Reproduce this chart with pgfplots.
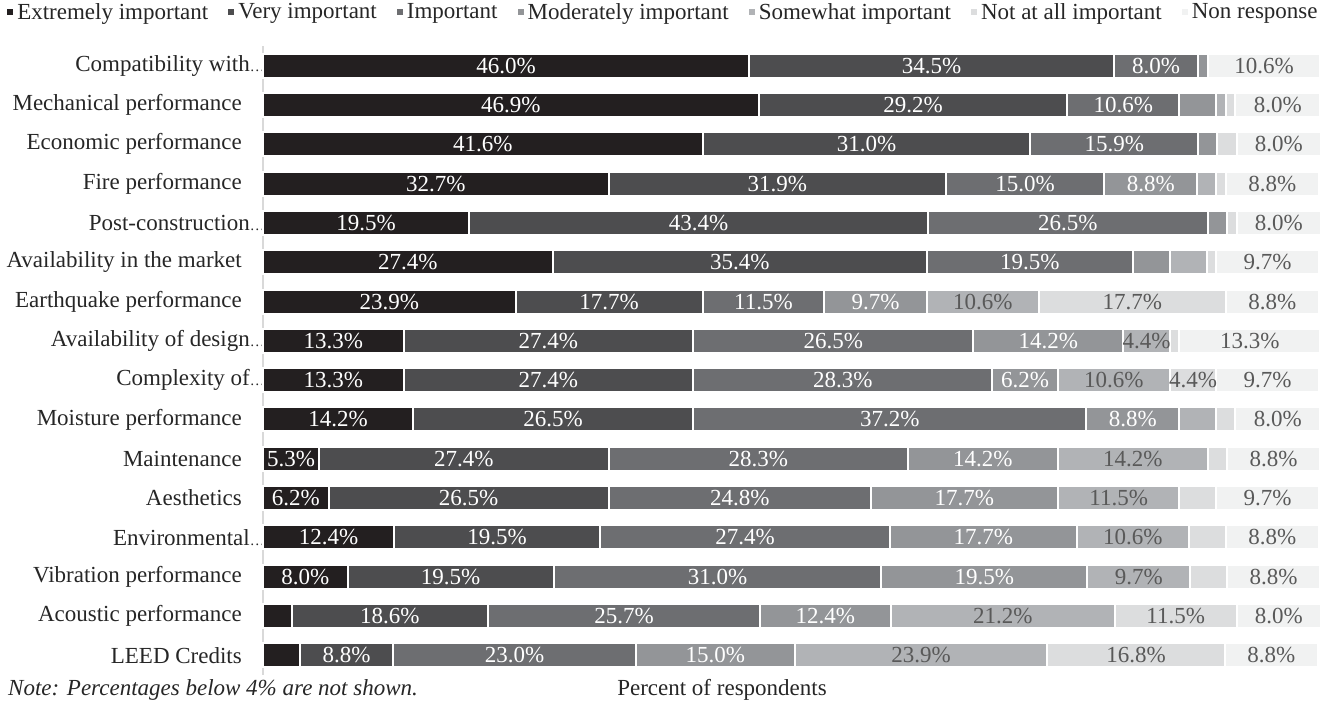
\documentclass[border=0pt]{standalone}
\usepackage{pgfplots}
\usepackage{pgfplotstable}
\pgfplotsset{compat=1.18}
\usepackage{fontspec}
\setmainfont{Liberation Serif}
\definecolor{cExt}{HTML}{231F20}
\definecolor{cVery}{HTML}{4D4D4F}
\definecolor{cImp}{HTML}{6D6E71}
\definecolor{cMod}{HTML}{939598}
\definecolor{cSome}{HTML}{B1B3B6}
\definecolor{cNot}{HTML}{DCDDDE}
\definecolor{cNon}{HTML}{F1F2F2}
\definecolor{txt}{HTML}{262626}
\definecolor{lbl}{HTML}{595959}

\pgfplotstableread{
y  ext  very imp  mod  some notat nonr
16 46.0 34.5 8.0  0.9  0    0    10.6
15 46.9 29.2 10.6 3.5  0.9  0.9  8.0
14 41.6 31.0 15.9 1.8  0    1.8  8.0
13 32.7 31.9 15.0 8.8  1.8  0.9  8.8
12 19.5 43.4 26.5 1.8  0    0.9  8.0
11 27.4 35.4 19.5 3.5  3.5  0.9  9.7
10 23.9 17.7 11.5 9.7  10.6 17.7 8.8
9  13.3 27.4 26.5 14.2 4.4  0.9  13.3
8  13.3 27.4 28.3 6.2  10.6 4.4  9.7
7  14.2 26.5 37.2 8.8  3.5  1.8  8.0
6  5.3  27.4 28.3 14.2 14.2 1.8  8.8
5  6.2  26.5 24.8 17.7 11.5 3.5  9.7
4  12.4 19.5 27.4 17.7 10.6 3.5  8.8
3  8.0  19.5 31.0 19.5 9.7  3.5  8.8
2  2.7  18.6 25.7 12.4 21.2 11.5 8.0
1  3.5  8.8  23.0 15.0 23.9 16.8 8.8
}\data
% label centres of each segment
\pgfplotstablecreatecol[create col/expr={\thisrow{ext}/2}]{cext}\data
\pgfplotstablecreatecol[create col/expr={\thisrow{ext}+\thisrow{very}/2}]{cvery}\data
\pgfplotstablecreatecol[create col/expr={\thisrow{ext}+\thisrow{very}+\thisrow{imp}/2}]{cimp}\data
\pgfplotstablecreatecol[create col/expr={\thisrow{ext}+\thisrow{very}+\thisrow{imp}+\thisrow{mod}/2}]{cmod}\data
\pgfplotstablecreatecol[create col/expr={\thisrow{ext}+\thisrow{very}+\thisrow{imp}+\thisrow{mod}+\thisrow{some}/2}]{csome}\data
\pgfplotstablecreatecol[create col/expr={\thisrow{ext}+\thisrow{very}+\thisrow{imp}+\thisrow{mod}+\thisrow{some}+\thisrow{notat}/2}]{cnotat}\data
\pgfplotstablecreatecol[create col/expr={\thisrow{ext}+\thisrow{very}+\thisrow{imp}+\thisrow{mod}+\thisrow{some}+\thisrow{notat}+\thisrow{nonr}/2}]{cnonr}\data

\newcommand\trunc[1]{#1\rlap{\fontsize{15}{15}\selectfont …}\kern-8pt}
\newcommand\fs{\fontsize{23}{27}\selectfont}

\pgfplotsset{
  frame/.style={at={(263pt,32pt)}, anchor=south west,
    scale only axis, width=1057pt, height=629pt,
    xmin=0, xmax=100, ymin=0.5, ymax=16.5, clip=false},
  lab/.style={only marks, mark=none, point meta=explicit symbolic,
    nodes near coords={\ifdim\pgfplotspointmeta pt<3.95pt\relax\else\pgfplotspointmeta\%\fi},
    nodes near coords style={anchor=center, font=\fs, inner sep=0pt, text=#1}},
}

\begin{document}
\begin{tikzpicture}[font=\fs]
\useasboundingbox (0,0) rectangle (1328pt,707pt);
\begin{axis}[
  frame,
  xbar stacked, bar width=24pt,
  axis x line=none,
  axis y line*=left,
  y axis line style={draw=black!15, line width=1.5pt},
  ytick={1,...,16},
  yticklabels={LEED Credits, Acoustic performance, Vibration performance, \trunc{Environmental}, Aesthetics, Maintenance, Moisture performance, \trunc{Complexity of}, \trunc{Availability of design}, Earthquake performance, Availability in the market, \trunc{Post-construction}, Fire performance, Economic performance, Mechanical performance, \trunc{Compatibility with}},
  major tick length=0pt,
  yticklabel style={font=\fs, inner sep=0pt, xshift=-21pt, text=txt},
  xtick=\empty,
  every axis plot/.append style={draw=white, line width=2pt},
  legend style={draw=none, fill=none, legend columns=-1, at={(-0.244,1.054)}, anchor=west,
    font=\fs, text=txt, inner sep=0pt,
    /tikz/every even column/.append style={column sep=16pt}},
  legend image code/.code={\fill[#1] (0pt,-4pt) rectangle (8pt,4pt);},
]
\addplot[fill=cExt] table[x=ext,y=y]{\data};
\addplot[fill=cVery] table[x=very,y=y]{\data};
\addplot[fill=cImp] table[x=imp,y=y]{\data};
\addplot[fill=cMod] table[x=mod,y=y]{\data};
\addplot[fill=cSome] table[x=some,y=y]{\data};
\addplot[fill=cNot] table[x=notat,y=y]{\data};
\addplot[fill=cNon] table[x=nonr,y=y]{\data};
\legend{Extremely important, Very important, Important, Moderately important, Somewhat important, Not at all important, Non response}
\end{axis}
\begin{axis}[frame, hide axis]
\addplot[lab=white] table[x=cext,y=y,meta=ext]{\data};
\addplot[lab=white] table[x=cvery,y=y,meta=very]{\data};
\addplot[lab=white] table[x=cimp,y=y,meta=imp]{\data};
\addplot[lab=white] table[x=cmod,y=y,meta=mod]{\data};
\addplot[lab=lbl] table[x=csome,y=y,meta=some]{\data};
\addplot[lab=lbl] table[x=cnotat,y=y,meta=notat]{\data};
\addplot[lab=lbl] table[x=cnonr,y=y,meta=nonr]{\data};
\end{axis}
\node[anchor=west, font=\fs\itshape, text=txt, inner sep=0pt] at (8pt,17pt) {Note: Percentages below 4\% are not shown.};
\node[anchor=center, font=\fs, text=txt, inner sep=0pt] at (722pt,17pt) {Percent of respondents};
\end{tikzpicture}
\end{document}
